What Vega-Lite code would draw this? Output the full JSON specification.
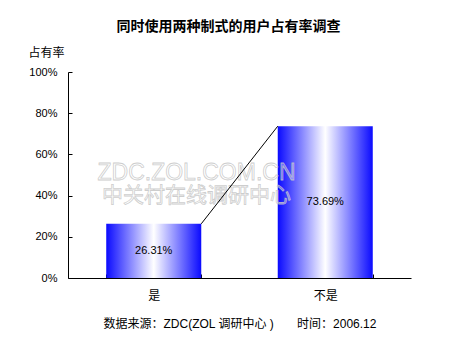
{
  "$schema": "https://vega.github.io/schema/vega-lite/v6.json",
  "width": 343,
  "height": 206,
  "autosize": {"type": "none"},
  "padding": {"left": 68, "top": 72, "right": 39, "bottom": 59},
  "background": "white",
  "title": {
    "text": "同时使用两种制式的用户占有率调查",
    "font": "Noto Sans CJK SC",
    "fontSize": 14,
    "fontWeight": "bold",
    "color": "black",
    "offset": 12,
    "dx": -11
  },
  "data": {"values": [{"cat": "是", "value": 26.31}, {"cat": "不是", "value": 73.69}]},
  "config": {
    "view": {"stroke": null},
    "font": "Liberation Sans, Noto Sans CJK SC"
  },
  "layer": [
    {
      "mark": {
        "type": "bar",
        "color": {
          "gradient": "linear",
          "x1": 0, "x2": 1, "y1": 0, "y2": 0,
          "stops": [
            {"offset": 0, "color": "#0a0aff"},
            {"offset": 0.5, "color": "#ffffff"},
            {"offset": 1, "color": "#0a0aff"}
          ]
        }
      },
      "encoding": {
        "x": {
          "field": "cat", "type": "nominal", "sort": ["是", "不是"],
          "scale": {"paddingInner": 0.446, "paddingOuter": 0.223},
          "axis": {
            "title": "数据来源：ZDC(ZOL 调研中心 )\u00a0\u00a0\u00a0\u00a0\u00a0\u00a0\u00a0时间：2006.12",
            "titleFont": "Liberation Sans, Noto Sans CJK SC",
            "titleFontSize": 12,
            "titleFontWeight": "normal",
            "titleColor": "black",
            "titlePadding": 17,
            "labelAngle": 0,
            "labelFont": "Noto Sans CJK SC",
            "labelFontSize": 12,
            "labelColor": "black",
            "labelPadding": 16,
            "tickBand": "extent",
            "tickSize": -4,
            "tickColor": "black",
            "domainColor": "black",
            "grid": false
          }
        },
        "y": {
          "field": "value", "type": "quantitative",
          "scale": {"domain": [0, 100], "nice": false},
          "axis": {
            "title": "占有率",
            "titleFont": "Noto Sans CJK SC",
            "titleFontSize": 12,
            "titleFontWeight": "normal",
            "titleColor": "black",
            "titleAngle": 0,
            "titleAlign": "left",
            "titleBaseline": "middle",
            "titleX": -40,
            "titleY": -20,
            "values": [0, 20, 40, 60, 80, 100],
            "labelExpr": "datum.value + '%'",
            "labelFontSize": 11,
            "labelColor": "black",
            "labelPadding": 15,
            "tickSize": -4,
            "tickColor": "black",
            "domainColor": "black",
            "grid": false
          }
        }
      }
    },
    {
      "data": {"values": [{}]},
      "mark": {"type": "text", "text": "ZDC.ZOL.COM.CN", "font": "Liberation Sans", "fontSize": 23, "fill": "#ffffff", "fillOpacity": 0.35, "stroke": "#c4c4c4", "strokeOpacity": 0.85, "strokeWidth": 0.8},
      "encoding": {
        "x": {"datum": "是", "bandPosition": 0.95},
        "y": {"datum": 51}
      }
    },
    {
      "data": {"values": [{}]},
      "mark": {"type": "text", "text": "中关村在线调研中心", "font": "Noto Sans CJK SC", "fontSize": 21, "fill": "#ffffff", "fillOpacity": 0.35, "stroke": "#c4c4c4", "strokeOpacity": 0.85, "strokeWidth": 0.8},
      "encoding": {
        "x": {"datum": "是", "bandPosition": 0.95},
        "y": {"datum": 40}
      }
    },
    {
      "transform": [
        {"calculate": "datum.value / 2", "as": "mid"},
        {"calculate": "format(datum.value, '.2f') + '%'", "as": "label"}
      ],
      "mark": {"type": "text", "fontSize": 11, "color": "black", "font": "Liberation Sans"},
      "encoding": {
        "x": {"field": "cat", "type": "nominal", "sort": ["是", "不是"]},
        "y": {"field": "mid", "type": "quantitative"},
        "text": {"field": "label"}
      }
    },
    {
      "transform": [
        {"window": [
          {"op": "lead", "field": "cat", "as": "nextCat"},
          {"op": "lead", "field": "value", "as": "nextValue"}
        ]},
        {"filter": "datum.nextCat != null"}
      ],
      "mark": {"type": "rule", "color": "black", "strokeWidth": 1},
      "encoding": {
        "x": {"field": "cat", "type": "nominal", "sort": ["是", "不是"], "bandPosition": 1},
        "x2": {"field": "nextCat", "bandPosition": 0},
        "y": {"field": "value", "type": "quantitative"},
        "y2": {"field": "nextValue"}
      }
    }
  ]
}
